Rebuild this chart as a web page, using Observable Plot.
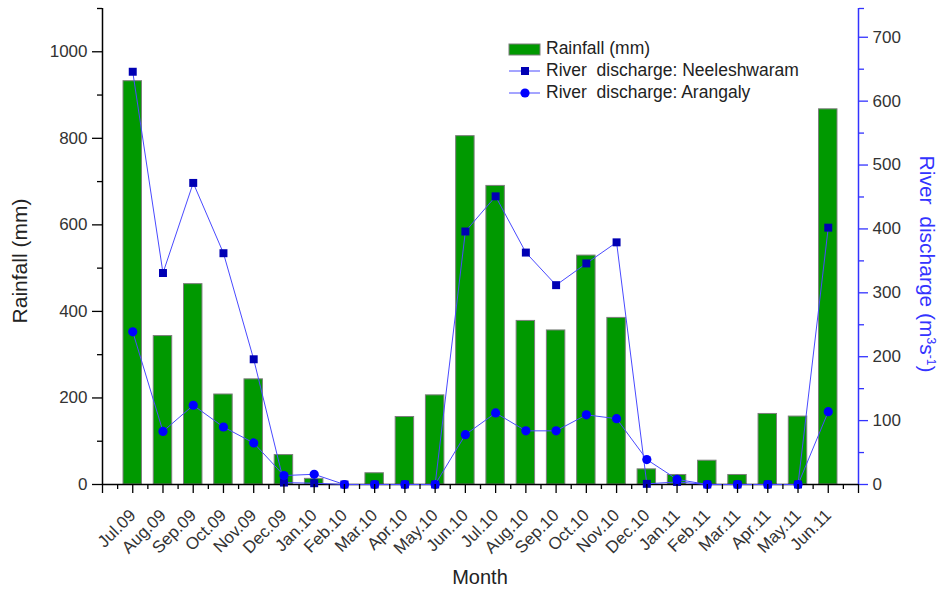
<!DOCTYPE html>
<html>
<head>
<meta charset="utf-8">
<script src="https://cdn.jsdelivr.net/npm/d3@7"></script>
<script src="https://cdn.jsdelivr.net/npm/@observablehq/plot@0.6"></script>
<style>
  html, body { margin: 0; padding: 0; background: #fff; }
  #chart { width: 938px; height: 590px; }
  #chart text { white-space: pre; }
  #chart g[aria-label="y-axis tick label"] text { font-size: 17px !important; }
  #chart g[aria-label="x-axis tick label"] text { font-size: 17px !important; }
</style>
</head>
<body>
<div id="chart"></div>
<script>
// ---- data ----
const months = ["Jul.09","Aug.09","Sep.09","Oct.09","Nov.09","Dec.09","Jan.10","Feb.10","Mar.10","Apr.10","May.10","Jun.10",
                "Jul.10","Aug.10","Sep.10","Oct.10","Nov.10","Dec.10","Jan.11","Feb.11","Mar.11","Apr.11","May.11","Jun.11"];
const rainfall = [932, 343, 463, 208, 243, 68, 13, 0, 26, 156, 206, 805, 690, 378, 356, 529, 385, 35, 22, 55, 22, 163, 157, 867];
const neeleshwaram = [646, 331, 472, 362, 196, 3, 2, 0, 0, 0, 0, 396, 451, 363, 312, 346, 379, 1, 4, 0, 0, 0, 0, 402];
const arangaly = [239, 83, 124, 90, 65, 14, 16, 0, 0, 0, 0, 78, 112, 84, 84, 109, 103, 39, 8, 0, 0, 0, 0, 114];
const rainTicks = [0, 200, 400, 600, 800, 1000];
const rainMinor = [100, 300, 500, 700, 900, 1100];
const dischargeTicks = [0, 100, 200, 300, 400, 500, 600, 700];
const dischargeMinor = [50, 150, 250, 350, 450, 550, 650, 745];
const legendLabels = ["Rainfall (mm)", "River  discharge: Neeleshwaram", "River  discharge: Arangaly"];

// ---- scales ----
const rainMax = 1100, dischargeMax = 745;
const k = rainMax / dischargeMax;
const data = months.map((m, i) => ({i, m, r: rainfall[i], n: neeleshwaram[i] * k, a: arangaly[i] * k}));

const BLUE_AXIS = "#3333ff", LINE = "#4a4aff";

const chart = Plot.plot({
  width: 938, height: 590,
  marginLeft: 102, marginRight: 80, marginTop: 8, marginBottom: 106,
  x: {type: "linear", domain: [-1, 24], label: null},
  y: {domain: [0, rainMax], label: null},
  style: {fontFamily: "'Liberation Sans', Arial, sans-serif", fontSize: "17px", background: "white", overflow: "visible"},
  marks: [
    Plot.rectY(data, {x1: d => d.i - 0.305, x2: d => d.i + 0.305, y1: 0, y2: "r", fill: "#009900", stroke: "#7d7d7d", strokeWidth: 1}),
    Plot.ruleY([0], {stroke: "black", strokeWidth: 1.5}),
    Plot.ruleX([-1], {stroke: "black", strokeWidth: 1.5}),
    Plot.ruleX([24], {stroke: BLUE_AXIS, strokeWidth: 1.5}),
    Plot.line(data, {x: "i", y: "n", stroke: LINE, strokeWidth: 1}),
    Plot.dot(data, {x: "i", y: "n", symbol: "square", r: 4.5, fill: "#0000b4", stroke: "none"}),
    Plot.line(data, {x: "i", y: "a", stroke: LINE, strokeWidth: 1}),
    Plot.dot(data, {x: "i", y: "a", r: 4.6, fill: "#0000ff", stroke: "none"}),
    // left axis
    Plot.axisY({anchor: "left", ticks: rainTicks, tickFormat: d => String(d), tickSize: 10, tickPadding: 5, label: null,
      stroke: "black", fill: "#333", strokeWidth: 1.3, fontSize: 17}),
    Plot.axisY({anchor: "left", ticks: rainMinor, tickSize: 5, tickFormat: () => "", label: null,
      stroke: "black", strokeWidth: 1.3}),
    // right axis (discharge mapped onto rainfall scale)
    Plot.axisY({anchor: "right", ticks: dischargeTicks.map(v => v * k), tickFormat: d => String(Math.round(d / k)),
      tickSize: 9, tickPadding: 5, label: null, stroke: BLUE_AXIS, fill: "#333", strokeWidth: 1.3, fontSize: 17}),
    Plot.axisY({anchor: "right", ticks: dischargeMinor.map(v => v * k), tickFormat: () => "", tickSize: 5,
      label: null, stroke: BLUE_AXIS, strokeWidth: 1.3}),
    // x axis
    Plot.axisX({ticks: d3.range(-1, 25), tickFormat: i => months[i] ?? "", tickSize: 9, tickPadding: 19,
      tickRotate: -45, label: null, stroke: "black", fill: "#333", strokeWidth: 1.3, fontSize: 17}),
    Plot.axisX({ticks: d3.range(-0.5, 24, 1), tickFormat: () => "", tickSize: 5, label: null,
      stroke: "black", strokeWidth: 1.3})
  ]
});

document.getElementById("chart").appendChild(chart);

// ---- titles & legend ----
const svg = d3.select(chart);
const FONT = "'Liberation Sans', Arial, sans-serif";

svg.append("text")
  .attr("transform", "translate(27,261) rotate(-90)")
  .attr("text-anchor", "middle").attr("font-family", FONT).attr("font-size", 21).attr("fill", "#222")
  .text("Rainfall (mm)");

svg.append("text")
  .attr("x", 480).attr("y", 584)
  .attr("text-anchor", "middle").attr("font-family", FONT).attr("font-size", 20).attr("fill", "#222")
  .text("Month");

const rt = svg.append("text")
  .attr("transform", "translate(920,264) rotate(90)")
  .attr("text-anchor", "middle").attr("font-family", FONT).attr("font-size", 21).attr("fill", BLUE_AXIS)
  .style("white-space", "pre");
rt.append("tspan").text("River  discharge (m");
rt.append("tspan").attr("font-size", 12).attr("dy", -7).text("3");
rt.append("tspan").attr("dy", 7).text("s");
rt.append("tspan").attr("font-size", 12).attr("dy", -7).text("-1");
rt.append("tspan").attr("dy", 7).text(")");

const lg = svg.append("g").attr("font-family", FONT).attr("font-size", 17.5).attr("fill", "#222")
  .attr("text-anchor", "start");
lg.append("rect").attr("x", 509).attr("y", 44).attr("width", 31).attr("height", 11)
  .attr("fill", "#009900").attr("stroke", "#7d7d7d");
lg.append("line").attr("x1", 509).attr("x2", 540).attr("y1", 71).attr("y2", 71).attr("stroke", LINE);
lg.append("rect").attr("x", 521).attr("y", 67).attr("width", 8).attr("height", 8).attr("fill", "#0000b4");
lg.append("line").attr("x1", 509).attr("x2", 540).attr("y1", 93).attr("y2", 93).attr("stroke", LINE);
lg.append("circle").attr("cx", 525).attr("cy", 93).attr("r", 4.6).attr("fill", "#0000ff");
legendLabels.forEach((t, j) => {
  lg.append("text").attr("x", 546).attr("y", 54 + j * 22).attr("text-anchor", "start").style("white-space", "pre").text(t);
});
</script>
</body>
</html>
